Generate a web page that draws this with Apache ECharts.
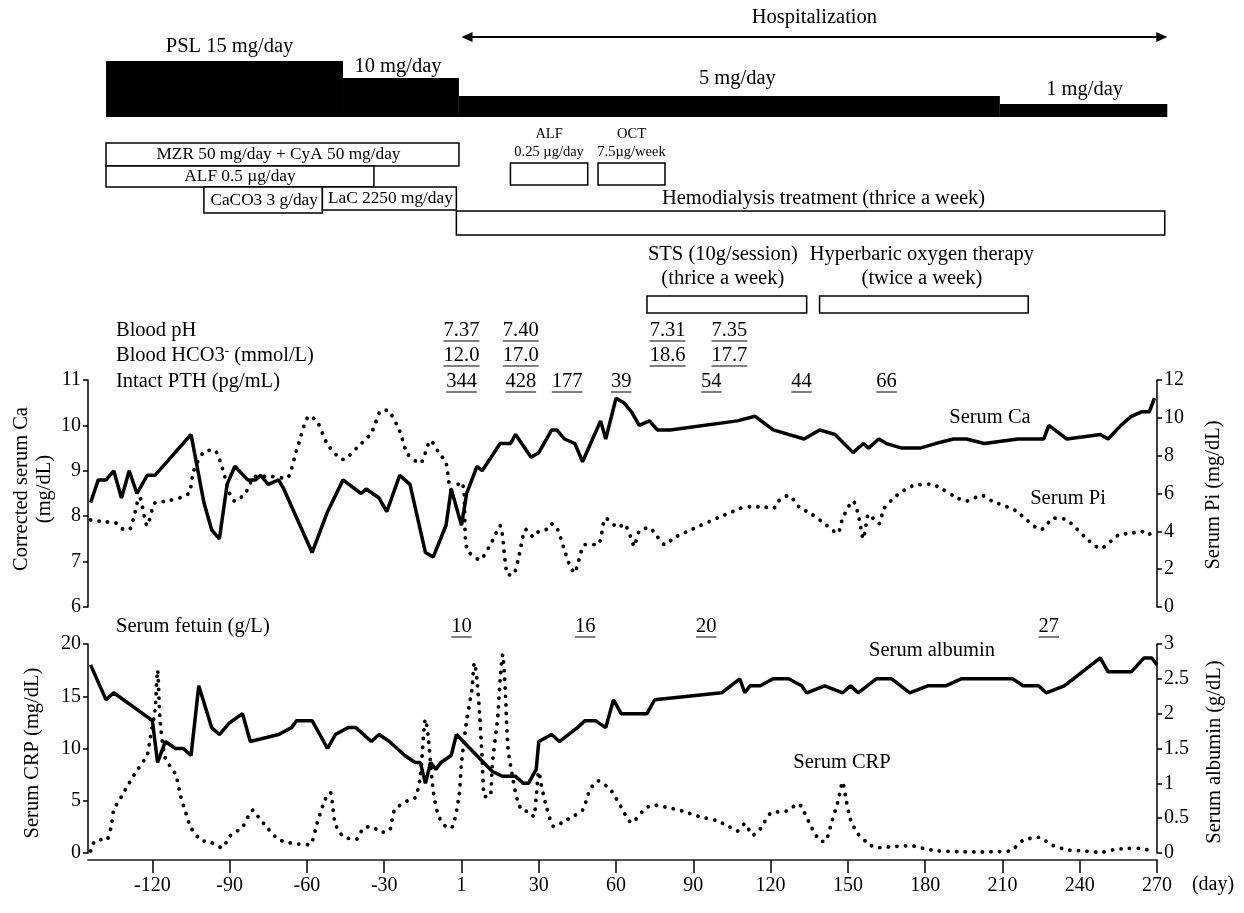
<!DOCTYPE html>
<html>
<head>
<meta charset="utf-8">
<script src="https://cdn.jsdelivr.net/npm/echarts@6/dist/echarts.min.js"></script>
<style>
html, body { margin: 0; background: #fff; }
#chart { width: 1244px; height: 913px; }
</style>
</head>
<body>
<div id="chart"></div>
<script>
// x range in days
var dayMin = -145, dayMax = 270;
var xTicks = [-120, -90, -60, -30, 0, 30, 60, 90, 120, 150, 180, 210, 240, 270];

// PSL dose steps
var pslStart = [-138, -46, -1, 209];
var pslEnd = [-46, -1, 209, 274];
var pslLabel = ['PSL 15 mg/day', '10 mg/day', '5 mg/day', '1 mg/day'];

// treatment boxes
var boxLabel = ['MZR 50 mg/day + CyA 50 mg/day', 'ALF 0.5 µg/day', 'CaCO3 3 g/day', 'LaC 2250 mg/day',
  'Hemodialysis treatment (thrice a week)', 'ALF\n0.25 µg/day', 'OCT\n7.5µg/week',
  'STS (10g/session)\n(thrice a week)', 'Hyperbaric oxygen therapy\n(twice a week)'];
var boxStart = [-138, -138, -100, -54, -2, 19, 53, 72, 139];
var boxEnd = [-1, -34, -54, -2, 273, 49, 79, 134, 220];
var hospStart = 0, hospEnd = 274;

// lab values written above the panels
var phDays = [0, 23, 80, 104];
var phVals = ['7.37', '7.40', '7.31', '7.35'];
var hco3Vals = ['12.0', '17.0', '18.6', '17.7'];
var pthDays = [0, 23, 41, 62, 97, 132, 165];
var pthVals = ['344', '428', '177', '39', '54', '44', '66'];
var fetuinDays = [0, 48, 95, 228];
var fetuinVals = ['10', '16', '20', '27'];

// corrected serum Ca (mg/dL)
var caData = [[-144,8.3],[-141,8.8],[-138,8.8],[-135,9.0],[-132,8.4],[-129,9.0],[-126,8.5],[-122,8.9],[-119,8.9],
  [-105,9.8],[-100,8.3],[-97,7.7],[-94,7.5],[-91,8.7],[-88,9.1],[-83,8.8],[-80,8.8],[-78,8.9],[-75,8.7],[-71,8.8],
  [-69,8.6],[-58,7.2],[-52,8.1],[-46,8.8],[-39,8.5],[-37,8.6],[-32,8.4],[-29,8.1],[-24,8.9],[-20,8.7],[-14,7.2],
  [-11,7.1],[-6,7.8],[-4,8.6],[0,7.8],[2,8.5],[6,9.1],[8,9.0],[15,9.6],[19,9.6],[21,9.8],[27,9.3],[30,9.4],[32,9.6],
  [35,9.9],[37,9.9],[40,9.7],[44,9.6],[47,9.2],[54,10.1],[56,9.7],[60,10.6],[63,10.5],[66,10.3],[69,10.0],[73,10.1],
  [76,9.9],[81,9.9],[107,10.1],[114,10.2],[121,9.9],[133,9.7],[139,9.9],[145,9.8],[152,9.4],[156,9.6],[158,9.5],
  [162,9.7],[165,9.6],[171,9.5],[178,9.5],[184,9.6],[191,9.7],[196,9.7],[203,9.6],[216,9.7],[226,9.7],[228,10.0],
  [235,9.7],[248,9.8],[251,9.7],[256,10.0],[260,10.2],[264,10.3],[267,10.3],[269,10.6]];

// serum Pi (mg/dL)
var piData = [[-144,4.6],[-138,4.5],[-135,4.5],[-131,4.1],[-129,4.1],[-125,5.8],[-122,4.3],[-119,5.5],[-114,5.6],
  [-106,6.0],[-104,7.2],[-100,8.2],[-96,8.3],[-93,7.4],[-90,6.0],[-88,5.6],[-84,6.0],[-80,6.9],[-74,6.9],[-68,6.8],
  [-64,8.3],[-59,10.1],[-56,9.8],[-52,8.6],[-46,7.8],[-40,8.5],[-35,9.2],[-31,10.4],[-29,10.4],[-24,9.3],[-21,8.1],
  [-16,7.6],[-12,8.8],[-9,8.2],[-6,7.6],[-4,6.2],[0,6.6],[1,6.0],[2,3.1],[7,2.5],[12,3.5],[15,4.3],[18,1.7],[20,1.7],
  [22,2.5],[25,4.1],[28,3.7],[30,4.0],[33,4.1],[35,4.4],[37,4.2],[40,3.0],[42,2.2],[44,1.8],[45,2.2],[48,3.3],
  [53,3.3],[56,4.7],[61,4.2],[63,4.4],[66,3.6],[67,3.2],[69,4.0],[73,4.2],[75,3.9],[79,3.3],[83,3.7],[108,5.2],
  [112,5.3],[117,5.3],[121,5.2],[123,5.6],[127,5.9],[131,5.3],[136,4.9],[141,4.4],[146,3.9],[148,4.7],[152,5.6],
  [154,4.9],[156,3.6],[157,4.3],[158,4.9],[162,4.4],[164,5.2],[169,5.9],[175,6.4],[182,6.5],[187,6.2],[192,5.8],
  [196,5.6],[202,5.9],[206,5.6],[215,5.1],[225,4.1],[230,4.7],[235,4.6],[242,3.7],[248,3.1],[255,3.8],[260,3.9],
  [264,4.0],[266,3.8],[269,4.0]];

// serum albumin (g/dL)
var albData = [[-144,2.7],[-138,2.2],[-135,2.3],[-120,1.9],[-118,1.3],[-115,1.6],[-111,1.5],[-108,1.5],[-105,1.4],
  [-102,2.4],[-97,1.8],[-94,1.7],[-90,1.87],[-85,2.0],[-82,1.6],[-71,1.7],[-66,1.8],[-64,1.9],[-58,1.9],[-52,1.5],
  [-49,1.7],[-44,1.8],[-41,1.8],[-35,1.6],[-32,1.7],[-28,1.6],[-22,1.4],[-18,1.3],[-16,1.3],[-14,1.0],[-12,1.3],
  [-10,1.2],[-8,1.3],[-4,1.4],[-2,1.7],[12,1.17],[16,1.1],[21,1.1],[24,1.0],[26,1.0],[29,1.2],[30,1.6],[35,1.7],
  [38,1.6],[45,1.8],[48,1.9],[52,1.9],[56,1.8],[59,2.2],[62,2.0],[72,2.0],[75,2.2],[101,2.3],[108,2.5],[110,2.3],
  [112,2.4],[116,2.4],[121,2.5],[127,2.5],[132,2.4],[134,2.3],[141,2.4],[148,2.3],[151,2.4],[154,2.3],[161,2.5],
  [167,2.5],[174,2.3],[181,2.4],[188,2.4],[194,2.5],[214,2.5],[218,2.4],[224,2.4],[227,2.3],[234,2.4],[248,2.8],
  [251,2.6],[260,2.6],[265,2.8],[268,2.8],[270,2.7]];

// serum CRP (mg/dL)
var crpData = [[-144,0.2],[-143,0.9],[-141,1.3],[-138,1.2],[-136,2.5],[-135,4.1],[-132,5.4],[-129,6.7],[-126,7.9],
  [-122,9.4],[-121,10.8],[-119,13.7],[-118,17.5],[-117,12.7],[-115,9.1],[-111,7.5],[-109,5.4],[-107,3.8],[-105,2.4],
  [-101,1.2],[-98,1.1],[-93,0.5],[-90,1.6],[-85,2.5],[-81,4.1],[-79,3.5],[-75,2.3],[-71,1.3],[-65,0.9],[-59,0.8],
  [-56,2.9],[-53,5.1],[-51,5.8],[-49,2.8],[-46,1.6],[-41,1.3],[-38,2.4],[-35,2.5],[-31,2.0],[-28,2.1],[-26,4.1],
  [-21,5.0],[-18,5.3],[-16,7.3],[-14,12.8],[-13,11.3],[-11,6.0],[-9,3.6],[-6,2.5],[-4,2.4],[-1,5.4],[0,8.6],[2,12.7],
  [4,15.6],[5,18.2],[6,16.6],[7,13.4],[8,9.2],[9,5.4],[11,5.4],[12,8.6],[14,12.9],[15,16.6],[16,19.0],[17,15.6],
  [18,10.2],[20,7.0],[22,4.8],[24,4.0],[26,4.0],[28,3.5],[29,5.4],[30,7.8],[31,6.5],[33,4.4],[36,2.5],[39,2.9],
  [44,3.6],[47,4.1],[50,6.1],[53,6.9],[58,6.0],[61,4.8],[64,3.5],[66,2.9],[70,3.9],[74,4.6],[81,4.3],[86,4.0],
  [92,3.5],[99,3.1],[104,2.5],[107,2.1],[110,2.8],[113,1.7],[116,2.3],[120,3.8],[126,4.0],[131,4.7],[132,4.4],
  [136,2.4],[139,1.2],[141,1.1],[144,3.2],[146,4.8],[148,6.8],[149,5.5],[151,3.2],[154,1.8],[158,0.9],[161,0.5],
  [167,0.6],[174,0.7],[180,0.4],[185,0.2],[194,0.13],[201,0.1],[207,0.13],[213,0.2],[218,1.2],[224,1.5],[229,0.8],
  [235,0.3],[241,0.2],[248,0.05],[253,0.3],[259,0.45],[263,0.45],[268,0.2]];

var FONT = '"Liberation Serif", "Times New Roman", serif';
function font(s) { return s + 'px ' + FONT; }
var measureCtx = document.createElement('canvas').getContext('2d');
function textWidth(t, s) { measureCtx.font = font(s); return measureCtx.measureText(t).width; }

// vertical layout of the annotation rows (pixels)
var pslTop = [61, 78, 96, 104], pslBottom = 117, pslLabelY = [47, 67, 79, 90], pslLabelDx = [5, -3, 8, 1];
var boxRow = [
  { top: 143, bottom: 166, size: 17.3, ty: null, dx: -4 },
  { top: 166, bottom: 187, size: 17.3, ty: null, dx: 0 },
  { top: 187, bottom: 213, size: 17.3, ty: null, dx: 1 },
  { top: 187, bottom: 210, size: 17.3, ty: null, dx: 1 },
  { top: 211, bottom: 235, size: 20.5, ty: 199, lh: 24, dx: 13 },
  { top: 163, bottom: 185, size: 14.5, ty: 143, lh: 18, dx: 0 },
  { top: 163, bottom: 185, size: 14.5, ty: 143, lh: 18, dx: 0 },
  { top: 296, bottom: 313, size: 20.5, ty: 267, lh: 24, dx: -4 },
  { top: 296, bottom: 313, size: 20.5, ty: 267, lh: 24, dx: -2 }
];

var chart = echarts.init(document.getElementById('chart'));

function txt(x, y, t, size, align) {
  return { type: 'text', x: x, y: y, style: { text: t, font: font(size), fill: '#000', align: align || 'center', verticalAlign: 'middle' } };
}
function vtxt(x, y, t) {
  var e = txt(x, y, t, 20.5);
  e.rotation = Math.PI / 2;
  return e;
}

function labRow(days, vals, rowY) {
  return {
    type: 'custom', xAxisIndex: 0, yAxisIndex: 0, clip: false, silent: true,
    data: days.map(function (d) { return [d, rowY]; }),
    renderItem: function (params, api) {
      var p = api.coord([api.value(0), api.value(1)]);
      var t = vals[params.dataIndex];
      var w = textWidth(t, 20.5);
      return { type: 'group', children: [
        txt(p[0], p[1], t, 20.5),
        { type: 'line', shape: { x1: p[0] - w / 2, y1: p[1] + 10, x2: p[0] + w / 2, y2: p[1] + 10 }, style: { stroke: '#555', lineWidth: 1.5 } }
      ] };
    }
  };
}

function yAxisBase(grid, pos, min, max, interval) {
  return {
    type: 'value', gridIndex: grid, position: pos, min: min, max: max, interval: interval,
    axisLine: { show: true, onZero: false, lineStyle: { color: '#000', width: 1.5 } },
    axisTick: { show: true, inside: false, length: 5, lineStyle: { color: '#000', width: 1.5 } },
    axisLabel: { color: '#000', fontFamily: FONT, fontSize: 20, margin: 7 },
    splitLine: { show: false }
  };
}

var dotted = { color: '#000', width: 3.8, type: [0.1, 8.5], cap: 'round' };
var solid = { color: '#000', width: 3.5 };

var option = {
  animation: false,
  backgroundColor: '#fff',
  grid: [
    { left: 88, right: 87, top: 0, height: 913 },
    { left: 88, right: 87, top: 380, height: 227 },
    { left: 88, right: 87, top: 644, height: 209 }
  ],
  xAxis: [
    { type: 'value', gridIndex: 0, min: dayMin, max: dayMax, show: false },
    { type: 'value', gridIndex: 1, min: dayMin, max: dayMax, show: false },
    {
      type: 'value', gridIndex: 2, min: dayMin, max: dayMax, offset: 7,
      axisLine: { show: true, onZero: false, lineStyle: { color: '#555', width: 2 } },
      axisTick: { show: true, customValues: xTicks, length: 13, lineStyle: { color: '#000', width: 1.5 } },
      axisLabel: {
        customValues: xTicks, color: '#000', fontFamily: FONT, fontSize: 20, margin: 16,
        formatter: function (v) { return v === 0 ? '1' : String(v); }
      },
      splitLine: { show: false }
    }
  ],
  yAxis: [
    { type: 'value', gridIndex: 0, min: 0, max: 913, inverse: true, show: false },
    yAxisBase(1, 'left', 6, 11, 1),
    yAxisBase(1, 'right', 0, 12, 2),
    yAxisBase(2, 'left', 0, 20, 5),
    yAxisBase(2, 'right', 0, 3, 0.5)
  ],
  graphic: [
    txt(116, 331, 'Blood pH', 20.5, 'left'),
    { type: 'text', x: 116, y: 356, style: { text: 'Blood HCO3{s|-} (mmol/L)', font: font(20.5), fill: '#000', align: 'left', verticalAlign: 'middle',
      rich: { s: { fontSize: 13, fontFamily: FONT, verticalAlign: 'top', padding: [0, 0, 8, 0] } } } },
    txt(116, 382, 'Intact PTH (pg/mL)', 20.5, 'left'),
    txt(116, 627, 'Serum fetuin (g/L)', 20.5, 'left'),
    txt(990, 418, 'Serum Ca', 20.5),
    txt(1068, 499, 'Serum Pi', 20.5),
    txt(932, 651, 'Serum albumin', 20.5),
    txt(842, 763, 'Serum CRP', 20.5),
    txt(1213, 885, '(day)', 20),
    vtxt(22, 489, 'Corrected serum Ca'),
    vtxt(45, 489, '(mg/dL)'),
    vtxt(1214, 495, 'Serum Pi (mg/dL)'),
    vtxt(33, 753, 'Serum CRP (mg/dL)'),
    vtxt(1215, 752, 'Serum albumin (g/dL)')
  ],
  series: [
    {
      name: 'Serum Ca', type: 'line', xAxisIndex: 1, yAxisIndex: 1, data: caData,
      showSymbol: false, symbol: 'none', lineStyle: solid, z: 3
    },
    {
      name: 'Serum Pi', type: 'line', xAxisIndex: 1, yAxisIndex: 2, data: piData, smooth: 0.25,
      showSymbol: false, symbol: 'none', lineStyle: dotted, z: 2
    },
    {
      name: 'Serum albumin', type: 'line', xAxisIndex: 2, yAxisIndex: 4, data: albData,
      showSymbol: false, symbol: 'none', lineStyle: solid, z: 3
    },
    {
      name: 'Serum CRP', type: 'line', xAxisIndex: 2, yAxisIndex: 3, data: crpData, smooth: 0.25,
      showSymbol: false, symbol: 'none', lineStyle: dotted, z: 2
    },
    // PSL steps
    {
      type: 'custom', xAxisIndex: 0, yAxisIndex: 0, clip: false, silent: true,
      data: pslStart.map(function (s, i) { return [s, pslEnd[i]]; }),
      renderItem: function (params, api) {
        var i = params.dataIndex;
        var a = api.coord([api.value(0), pslTop[i]]);
        var b = api.coord([api.value(1), pslBottom]);
        return { type: 'group', children: [
          { type: 'rect', shape: { x: a[0], y: a[1], width: b[0] - a[0], height: b[1] - a[1] }, style: { fill: '#000' } },
          txt((a[0] + b[0]) / 2 + pslLabelDx[i], pslLabelY[i], pslLabel[i], 20.5)
        ] };
      }
    },
    // treatment boxes
    {
      type: 'custom', xAxisIndex: 0, yAxisIndex: 0, clip: false, silent: true,
      data: boxStart.map(function (s, i) { return [s, boxEnd[i]]; }),
      renderItem: function (params, api) {
        var i = params.dataIndex, r = boxRow[i];
        var a = api.coord([api.value(0), r.top]);
        var b = api.coord([api.value(1), r.bottom]);
        var ty = r.ty === null ? (a[1] + b[1]) / 2 : r.ty;
        var t = txt((a[0] + b[0]) / 2 + r.dx, ty, boxLabel[i], r.size);
        if (r.lh) t.style.lineHeight = r.lh;
        return { type: 'group', children: [
          { type: 'rect', shape: { x: a[0], y: a[1], width: b[0] - a[0], height: b[1] - a[1] }, style: { fill: '#fff', stroke: '#000', lineWidth: 1.5 } },
          t
        ] };
      }
    },
    // hospitalization arrow
    {
      type: 'custom', xAxisIndex: 0, yAxisIndex: 0, clip: false, silent: true,
      data: [[hospStart, hospEnd]],
      renderItem: function (params, api) {
        var a = api.coord([api.value(0), 37]);
        var b = api.coord([api.value(1), 37]);
        return { type: 'group', children: [
          { type: 'line', shape: { x1: a[0] + 6, y1: a[1], x2: b[0] - 6, y2: b[1] }, style: { stroke: '#000', lineWidth: 2 } },
          { type: 'polygon', shape: { points: [[a[0], a[1]], [a[0] + 11, a[1] - 5], [a[0] + 11, a[1] + 5]] }, style: { fill: '#000' } },
          { type: 'polygon', shape: { points: [[b[0], b[1]], [b[0] - 11, b[1] - 5], [b[0] - 11, b[1] + 5]] }, style: { fill: '#000' } },
          txt((a[0] + b[0]) / 2, 18, 'Hospitalization', 20.5)
        ] };
      }
    },
    labRow(phDays, phVals, 331),
    labRow(phDays, hco3Vals, 356),
    labRow(pthDays, pthVals, 382),
    labRow(fetuinDays, fetuinVals, 627)
  ]
};

chart.setOption(option);
</script>
</body>
</html>
